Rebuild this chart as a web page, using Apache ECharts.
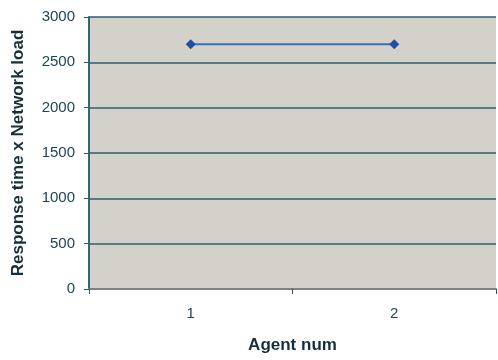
<!DOCTYPE html>
<html>
<head>
<meta charset="utf-8">
<script src="https://cdn.jsdelivr.net/npm/echarts@6/dist/echarts.min.js"></script>
<style>html,body{margin:0;padding:0;background:#fff}#c{width:498px;height:360px}</style>
</head>
<body>
<div id="c"></div>
<script>
const categories = ['1', '2'];
const values = [2700, 2700];
const yTicks = [0, 500, 1000, 1500, 2000, 2500, 3000];

const chart = echarts.init(document.getElementById('c'), null, {renderer: 'canvas'});
chart.setOption({
  animation: false,
  backgroundColor: '#ffffff',
  grid: {left: 89, right: 2, top: 17, bottom: 71, show: true, backgroundColor: '#d4d0ca', borderWidth: 0},
  xAxis: {
    type: 'category',
    data: categories,
    boundaryGap: true,
    name: 'Agent num',
    nameLocation: 'middle',
    nameGap: 48,
    nameTextStyle: {fontFamily: 'Liberation Sans', fontWeight: 'bold', fontSize: 17, color: '#14303a'},
    axisLine: {show: true, lineStyle: {color: '#808080', width: 2}},
    axisTick: {show: true, inside: false, length: 5, lineStyle: {color: '#2a5560'}},
    axisLabel: {fontFamily: 'Liberation Sans', fontSize: 15, color: '#1d4552', margin: 17},
    splitLine: {show: false}
  },
  yAxis: {
    type: 'value',
    min: yTicks[0],
    max: yTicks[yTicks.length - 1],
    interval: 500,
    name: 'Response time x Network load',
    nameLocation: 'middle',
    nameGap: 62,
    nameTextStyle: {fontFamily: 'Liberation Sans', fontWeight: 'bold', fontSize: 17, color: '#14303a', padding: [0, 0, 0, 0]},
    axisLine: {show: true, lineStyle: {color: '#2a6a78', width: 2}},
    axisTick: {show: true, length: 5, lineStyle: {color: '#2a5560'}},
    axisLabel: {fontFamily: 'Liberation Sans', fontSize: 15, color: '#1d4552', margin: 14, formatter: v => String(v)},
    splitLine: {show: true, lineStyle: {color: '#2c5f6a', width: 1.5}}
  },
  series: [{
    type: 'line',
    data: values,
    symbol: 'diamond',
    symbolSize: 10,
    lineStyle: {color: '#3a6fc0', width: 2},
    itemStyle: {color: '#1f4fa0'}
  }]
});
</script>
</body>
</html>
